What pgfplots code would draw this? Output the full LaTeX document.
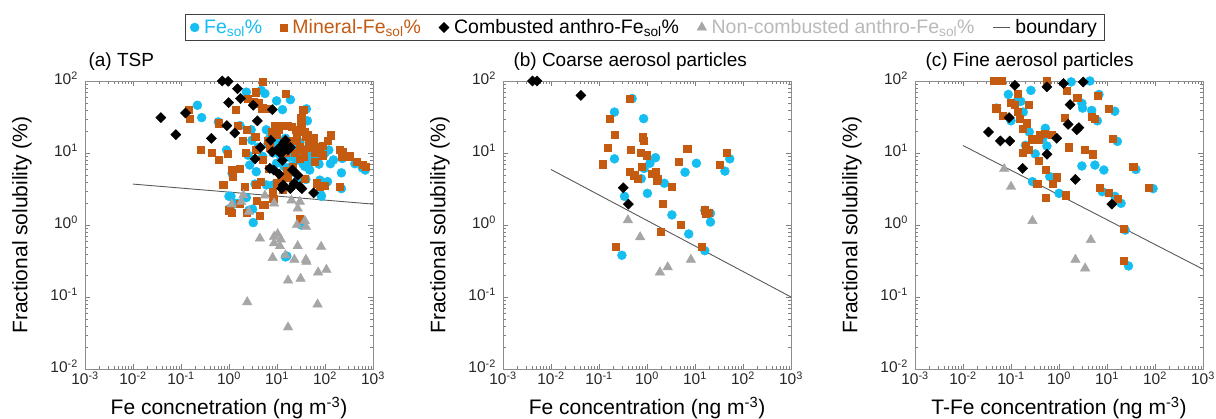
\documentclass[border=0pt]{standalone}
\usepackage{fontspec}
\setmainfont{Liberation Sans}
\usepackage{pgfplots}
\pgfplotsset{compat=1.18}
\definecolor{cfe}{RGB}{20,190,240}
\definecolor{cmin}{RGB}{197,90,17}
\definecolor{cgr}{RGB}{166,166,166}
\definecolor{cgrt}{RGB}{185,185,185}
\definecolor{cbd}{RGB}{89,89,89}
\newcommand\tkf{\fontsize{15.5}{18}\selectfont}
\newcommand\lbf{\fontsize{21}{25}\selectfont}
\pgfplotsset{
  every axis/.append style={
    scale only axis, width=288pt, height=288pt,
    xmin=1e-3, xmax=1e3, ymin=1e-2, ymax=1e2, clip=false,
    xtick={1e-3,1e-2,1e-1,1,10,100,1000},
    xticklabels={10\textsuperscript{-3},10\textsuperscript{-2},10\textsuperscript{-1},10\textsuperscript{0},10\textsuperscript{1},10\textsuperscript{2},10\textsuperscript{3}},
    ytick={1e-2,1e-1,1,10,100},
    yticklabels={10\textsuperscript{-2},10\textsuperscript{-1},10\textsuperscript{0},10\textsuperscript{1},10\textsuperscript{2}},
    minor xtick={2e-3,3e-3,4e-3,5e-3,6e-3,7e-3,8e-3,9e-3,2e-2,3e-2,4e-2,5e-2,6e-2,7e-2,8e-2,9e-2,0.2,0.3,0.4,0.5,0.6,0.7,0.8,0.9,2,3,4,5,6,7,8,9,20,30,40,50,60,70,80,90,200,300,400,500,600,700,800,900},
    minor ytick={2e-2,3e-2,4e-2,5e-2,6e-2,7e-2,8e-2,9e-2,0.2,0.3,0.4,0.5,0.6,0.7,0.8,0.9,2,3,4,5,6,7,8,9,20,30,40,50,60,70,80,90},
    axis line style={black!45},
    major tick length=5pt, minor tick length=3pt,
    tick align=inside,
    tick style={black!50},
    xticklabel style={font=\tkf, text=black!85, inner sep=1pt, yshift=-1.5pt},
    yticklabel style={font=\tkf, text=black!85, inner sep=2pt, xshift=-5pt, yshift=3pt},
    xlabel style={font=\lbf, at={(axis description cs:0.5,-0.1354)}, anchor=center},
    ylabel style={font=\lbf, at={(axis description cs:-0.21875,0.5)}, anchor=center},
    ylabel={Fractional solubility (\%)},
    title style={font=\fontsize{19}{23}\selectfont, at={(axis description cs:0,1)}, anchor=base west, yshift=8pt},
  },
  fe/.style={only marks, mark=*, mark size=4.5pt, mark options={draw=cfe, fill=cfe}},
  mi/.style={only marks, mark=square*, mark size=3.6pt, mark options={draw=cmin, fill=cmin}},
  co/.style={only marks, mark=square*, mark size=3.6pt, mark options={draw=black, fill=black, rotate=45}},
  nc/.style={only marks, mark=triangle*, mark size=5.5pt, mark options={draw=cgr, fill=cgr}},
  bd/.style={no marks, cbd, line width=0.9pt},
}
\begin{document}
\begin{tikzpicture}
\useasboundingbox (0,0) rectangle (1216pt,419pt);
% ---------------- (a) TSP
\begin{axis}[xmode=log, ymode=log, at={(85pt,50pt)}, anchor=south west,
  title={(a) TSP},
  xlabel={Fe concnetration (ng m\textsuperscript{-3})},
  legend style={at={(axis description cs:1.9427,1.1858)}, anchor=center, draw=black!75,
    legend columns=5, font=\fontsize{19.5}{23}\selectfont, inner xsep=5pt, inner ysep=3pt,
    /tikz/every even column/.append style={column sep=16pt},
    /tikz/every odd column/.append style={column sep=3pt}},
  legend cell align=left]
\addplot[fe] coordinates {
(0.22,46)(0.27,31)(0.6,27)(0.89,11)(1.16,5.2)(1.0,2.5)(1.3,2.0)(1.1,2.5)(1.5,2.0)(2.3,2.4)
(3.1,1.66)(3.2,1.08)(2.6,1.6)(1.7,24)(2.3,70)(2.5,9.3)(2.7,6.8)(2.9,21)(3.7,5.5)(4.7,74)
(5.6,67)(6,21)(6.5,13.5)(7,16)(6,3.6)(8.3,3.6)(8.3,10)(9.8,53)(9.8,7.2)(11,14)
(13,40)(13,11)(18,8.7)(19,55)(21,5.5)(25,7.9)(27,4.2)(32,9.3)(40,4.3)(41,41)
(43,28)(48,8.9)(48,5.8)(72,8.4)(78,4.2)(84,2.5)(98,9.8)(113,4.0)(130,7.1)(220,5.3)
(220,3.2)(230,8.4)(420,7.1)(690,5.8)(15,0.36)(32,1.0)(83,2.6)(16,0.37)(15,16)(22,12)
(30,14)(35,7)(55,10)(60,9)(65,11)(28,9)(12,9)(9,12)(5,9)(4,12)(3,15)(17,6)(45,12)(75,7)
(150,8)(260,9)(120,11)(20,6.5)(38,6.5)(600,6.2)(1.05,1.7)(3.5,3.7)(25,13)(50,7.5)(14,6.5)
};
\addlegendentry{\textcolor{cfe}{Fe\textsubscript{sol}\%}}
\addplot[mi] coordinates {
(0.146,40)(0.15,30)(0.26,11.2)(0.44,10)(0.6,8.1)(0.93,9.8)(0.6,26)(0.76,3.6)(1.16,5.8)(1.2,4.7)
(1.0,1.6)(1.15,1.5)(1.7,2.0)(2.1,3.4)(2.3,1.5)(1.5,24)(1.4,40)(1.65,6.1)(1.95,15)(2.2,10)
(2.3,21)(2.5,57)(3.2,51)(3.6,70)(4.2,49)(3.5,17)(5.1,97)(4.9,42)(6,41)(15,66)
(3.7,11)(5.1,8)(4.6,4)(3.7,3.6)(5.1,1.9)(6.9,6.1)(7,12)(6.3,15)(7.7,20)(9,24)
(10,18)(11,21)(13,24)(17,24)(20,23)(25,21)(32,31)(32,24)(38,20)(40,17)
(47,15)(55,13)(65,12)(77,11)(90,12.7)(113,15)(130,17.7)(200,11)(230,10.4)(330,9)
(460,7.6)(620,6.8)(700,6.4)(220,8.9)(21,15)(18,12.2)(15,10)(23,10)(30,12)(35,11)
(45,13.5)(52,12)(62,10)(72,11)(30,8.4)(36,8.9)(21,6.5)(16,5.6)(12,4.7)(17,4.5)
(10,3.8)(13,3.1)(8.3,2.3)(38,4.4)(67,3.8)(78,3.4)(200,3.4)(30,1.2)(90,9.3)(62,7.6)
(4.3,1.35)(3.8,2.2)(5.6,1.9)(8,2.9)(100,3.5)(35,40)(1.05,1.6)(26,16)(43,18)(58,16)
};
\addlegendentry{\textcolor{cmin}{Mineral-Fe\textsubscript{sol}\%}}
\addplot[co] coordinates {
(0.038,31)(0.078,18)(0.124,36)(0.43,16)(0.72,100)(0.96,99)(0.98,50)(0.9,24)(1.32,19)(1.5,78)
(1.74,57)(3.2,46)(3.9,28)(3.5,8.3)(4.5,12)(8,40)(7.4,15)(7.1,6.1)(8.6,5.8)(11,5.1)
(13,13)(15,15)(12,9.8)(13,7.9)(13.5,3.6)(12.5,3.2)(21,5.8)(27,4.9)(23,3.8)(30,3.4)
(33,3.2)(58,2.8)(17,11)(19,12)(10,11)(14,14)(8,10.4)(19,3.2)
};
\addlegendentry{Combusted anthro-Fe\textsubscript{sol}\%}
\addplot[nc] coordinates {
(1.14,1.94)(2.0,2.6)(2.6,1.53)(5.6,2.57)(8.7,2.0)(20,2.2)(30,2.1)(27,1.7)(26,1.0)(38,1.14)
(40,0.95)(4.4,0.65)(8.7,0.69)(10.3,0.75)(12,0.63)(8.7,0.56)(11.5,0.51)(27,0.51)(83,0.5)(8.1,0.35)
(15,0.38)(23,0.33)(40,0.33)(41,0.31)(72,0.22)(107,0.24)(31,0.18)(17,0.17)(2.4,0.085)(70,0.079)
(17,0.038)(1.8,2.1)
};
\addlegendentry{\textcolor{cgrt}{Non-combusted anthro-Fe\textsubscript{sol}\%}}
\addplot[bd] coordinates {(0.01,3.7)(1000,1.95)};
\addlegendentry{boundary}
\end{axis}
% ---------------- (b) Coarse
\begin{axis}[xmode=log, ymode=log, at={(503pt,50pt)}, anchor=south west,
  title={(b) Coarse aerosol particles}, title style={xshift=7pt},
  xlabel={Fe concentration (ng m\textsuperscript{-3})}]
\addplot[fe] coordinates {
(0.21,37)(0.21,8.3)(0.30,0.38)(0.34,2.5)(0.49,57)(0.85,30)(0.87,6.1)(0.76,4.4)(1.02,2.75)(1.15,7.2)
(1.5,8.6)(2.3,3.8)(3.3,1.38)(6.2,5.4)(10.7,7.2)(7.4,0.75)(16,0.44)(16,1.6)(21,1.45)(21,1.1)
(42,5.6)(53,8.3)
};
\addplot[mi] coordinates {
(0.12,7.0)(0.15,11.8)(0.17,30)(0.21,18)(0.22,0.5)(0.43,57)(0.46,11)(0.43,5.5)(0.54,4.9)(0.64,4.4)
(0.74,10)(0.78,6.5)(0.82,16.6)(0.87,15)(1.0,9.3)(1.25,5.1)(1.5,5.4)(1.6,4.2)(1.7,4.4)(2.1,2.0)
(1.9,0.81)(3.3,3.4)(4.5,7.6)(5.0,1.0)(6.9,11.5)(14,0.5)(16,1.6)(17,1.45)(19,1.5)(33,6.8)
(46,10)
};
\addplot[co] coordinates {(0.0041,100)(0.0051,100)(0.042,63)(0.32,3.3)(0.41,1.95)};
\addplot[nc] coordinates {(0.40,1.17)(0.72,0.68)(1.86,0.22)(2.7,0.26)(8.2,0.33)};
\addplot[bd] coordinates {(0.01,5.9)(1000,0.1)};
\end{axis}
% ---------------- (c) Fine
\begin{axis}[xmode=log, ymode=log, at={(915pt,50pt)}, anchor=south west,
  title={(c) Fine aerosol particles}, title style={xshift=7pt},
  xlabel={T-Fe concentration (ng m\textsuperscript{-3})}]
\addplot[fe] coordinates {
(0.05,42)(0.088,65)(0.1,28)(0.13,51)(0.16,52)(0.18,37)(0.24,19.6)(0.26,74)(0.32,9.7)(0.2,12.8)
(0.28,4.0)(0.46,16)(0.52,22)(0.56,12.5)(0.64,4.7)(1.0,2.75)(1.8,97)(3.0,49)(3.1,42)(3.0,6.6)
(4.4,100)(4.8,39)(5.6,6.8)(6.3,28)(6.8,65)(8.0,2.9)(8.6,5.8)(14.5,38)(16.4,14.5)(14.6,2.5)
(19.6,2.0)(24,0.85)(28,0.27)(40,5.9)(91,3.2)
};
\addplot[mi] coordinates {
(0.044,100)(0.064,100)(0.049,42)(0.067,33)(0.097,50)(0.12,47)(0.136,67)(0.14,37)(0.15,30)(0.23,47)
(0.175,22)(0.21,26)(0.20,12.5)(0.23,11)(0.175,10)(0.27,15.5)(0.38,15.5)(0.4,18)(0.38,7.9)(0.35,3.7)
(0.5,18.5)(0.56,100)(0.53,5.9)(0.53,2.4)(0.74,3.7)(0.7,18)(0.9,4.6)(1.3,31)(1.45,74)(1.6,12)
(1.4,2.6)(2.4,59)(3.4,11)(4.8,32)(5.5,30)(5.0,9.6)(6.3,62)(7.0,3.3)(11,2.8)(11,41)
(13.3,15.6)(16.6,2.3)(22,0.88)(22,0.32)(35,6.5)(75,3.3)
};
\addplot[co] coordinates {
(0.034,19.6)(0.060,14.7)(0.094,14.7)(0.091,31)(0.12,87)(0.175,6.1)(0.56,83)(0.56,9.6)(0.9,16)(1.24,92)
(1.7,47)(1.55,25)(2.35,21)(2.6,22.5)(2.2,4.3)(3.2,97)(12.6,1.95)
};
\addplot[nc] coordinates {(0.072,6.0)(0.1,3.4)(0.28,1.14)(2.2,0.33)(3.5,0.25)(4.6,0.62)};
\addplot[bd] coordinates {(0.01,12.7)(1000,0.243)};
\end{axis}
\end{tikzpicture}
\end{document}
